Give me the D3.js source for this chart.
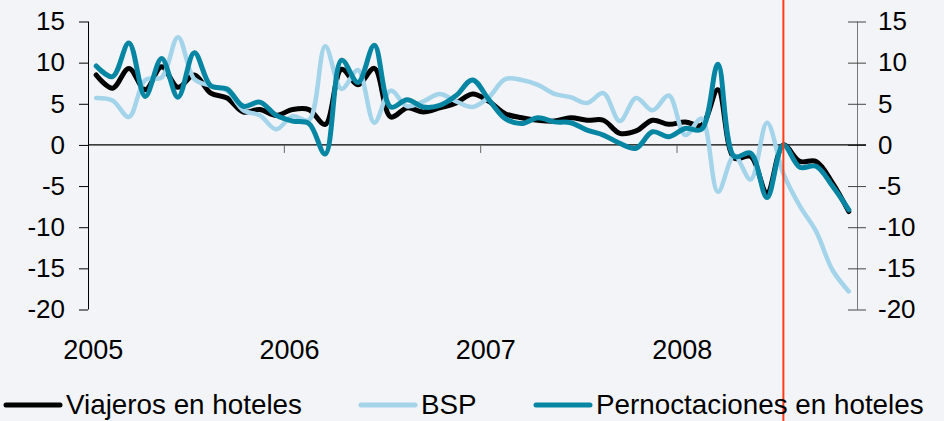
<!DOCTYPE html>
<html>
<head>
<meta charset="utf-8">
<script src="https://cdn.jsdelivr.net/npm/d3@7"></script>
<style>
  body { margin: 0; background: #f3f4f7; }
  text { font-family: "Liberation Sans", Arial, sans-serif; fill: #000; }
</style>
</head>
<body>
<div id="chart"></div>
<script>
// monthly categories, Jan 2005 - Nov 2008
const months = [];
for (let y = 2005; y <= 2008; y++) {
  for (let m = 1; m <= 12; m++) {
    if (y === 2008 && m > 11) break;
    months.push(y + '-' + String(m).padStart(2, '0'));
  }
}

const viajeros = [
  8.5, 6.9, 9.3, 6.7, 9.5, 7.0, 8.5, 6.3, 5.7, 4.0, 4.3, 3.6,
  4.3, 4.3, 2.5, 9.2, 7.3, 9.3, 3.4, 4.5, 4.0, 4.5, 5.1, 6.2,
  5.3, 3.8, 3.3, 3.0, 2.9, 3.3, 3.0, 3.0, 1.4, 1.7, 3.0, 2.5,
  2.8, 2.4, 6.7, -1.6, -1.4, -5.8, 0.0, -2.0, -2.0, -4.6, -8.1
];
const bsp = [
  5.7, 5.4, 3.4, 7.9, 8.2, 13.1, 8.0, 7.2, 6.6, 4.2, 3.6, 1.9,
  3.5, 3.0, 12.0, 6.8, 9.1, 2.7, 6.6, 4.7, 5.3, 6.2, 5.3, 4.6,
  5.8, 8.0, 7.9, 7.3, 6.2, 5.8, 5.1, 6.3, 2.9, 5.7, 4.2, 6.0,
  1.2, 3.2, -5.7, -1.3, -4.2, 2.7, -3.5, -7.4, -10.5, -15.2, -17.8
];
const pernoctaciones = [
  9.6, 8.3, 12.4, 5.9, 10.5, 5.8, 11.2, 7.2, 6.8, 4.7, 5.2, 3.6,
  2.9, 2.6, -1.1, 10.3, 7.6, 12.1, 4.6, 5.5, 4.6, 4.8, 6.0, 7.9,
  5.5, 3.2, 2.6, 3.3, 2.8, 2.7, 1.8, 1.2, 0.2, -0.4, 1.6, 1.0,
  2.0, 1.9, 9.8, -1.4, -1.0, -6.4, 0.0, -2.7, -2.6, -5.0, -7.9
];

const yTicks = [15, 10, 5, 0, -5, -10, -15, -20];
const years = ['2005', '2006', '2007', '2008'];
const markerMonth = '2008-07';

const series = [
  { name: 'Viajeros en hoteles', values: viajeros, color: '#000000', width: 5 },
  { name: 'BSP', values: bsp, color: '#a3d4ea', width: 4.5 },
  { name: 'Pernoctaciones en hoteles', values: pernoctaciones, color: '#0786a4', width: 5 }
];

const W = 944, H = 421;
const svg = d3.select('#chart')
  .append('svg')
  .attr('width', W)
  .attr('height', H);

svg.append('rect')
  .attr('width', W)
  .attr('height', H)
  .attr('fill', '#f3f4f7');

// scales
const x = d3.scaleBand()
  .domain(months)
  .range([88, 857]);
const y = d3.scaleLinear()
  .domain([-20, 15])
  .range([309.5, 21.5]);
const cx = d => x(d) + x.bandwidth() / 2;
const fmt = d => String(d);

// left axis
const left = svg.append('g')
  .attr('transform', 'translate(88,0)')
  .call(d3.axisLeft(y).tickValues(yTicks).tickSize(9).tickPadding(14).tickFormat(fmt));
left.select('.domain').attr('stroke', '#000').attr('d', 'M0.5,' + y(15) + 'V' + y(-20));
left.selectAll('text').style('font-size', '26px').attr('fill', '#000');

// right axis
const right = svg.append('g')
  .attr('transform', 'translate(857,0)')
  .call(d3.axisRight(y).tickValues(yTicks).tickSize(9).tickPadding(12).tickFormat(fmt));
right.select('.domain').attr('stroke', '#777').attr('d', 'M0.5,' + y(15) + 'V' + y(-20));
right.selectAll('.tick line').attr('x1', -9).attr('stroke', '#444');
right.selectAll('text').style('font-size', '26px').attr('fill', '#000');

// zero line
svg.append('line')
  .attr('x1', 88).attr('x2', 866)
  .attr('y1', y(0)).attr('y2', y(0))
  .attr('stroke', '#000').attr('stroke-width', 1.2);

// year ticks and labels
svg.selectAll('.ytick')
  .data(years.slice(1))
  .enter()
  .append('line')
  .attr('x1', d => x(d + '-01')).attr('x2', d => x(d + '-01'))
  .attr('y1', y(0)).attr('y2', y(0) + 8)
  .attr('stroke', '#666');

svg.selectAll('.ylabel')
  .data(years)
  .enter()
  .append('text')
  .attr('x', d => cx(d + '-01') - 3)
  .attr('y', 359)
  .attr('text-anchor', 'middle')
  .style('font-size', '27px')
  .text(d => d);

// lines
const line = d3.line()
  .x((d, i) => cx(months[i]))
  .y(d => y(d))
  .curve(d3.curveCatmullRom.alpha(0.5));

svg.selectAll('.series')
  .data(series)
  .enter()
  .append('path')
  .attr('d', d => line(d.values))
  .attr('fill', 'none')
  .attr('stroke', d => d.color)
  .attr('stroke-width', d => d.width)
  .attr('stroke-linejoin', 'round')
  .attr('stroke-linecap', 'round');

// marker line
svg.append('line')
  .attr('x1', cx(markerMonth)).attr('x2', cx(markerMonth))
  .attr('y1', 0).attr('y2', H)
  .attr('stroke', '#ff3d14').attr('stroke-width', 2);

// legend
const legendX = [6, 361, 536];
const legend = svg.selectAll('.legend')
  .data(series)
  .enter()
  .append('g')
  .attr('transform', (d, i) => 'translate(' + legendX[i] + ',405)');
legend.append('line')
  .attr('x1', 0).attr('x2', 54)
  .attr('stroke', d => d.color)
  .attr('stroke-width', 5)
  .attr('stroke-linecap', 'round');
legend.append('text')
  .attr('x', 60)
  .attr('y', 9)
  .style('font-size', '27.8px')
  .text(d => d.name);
</script>
</body>
</html>
